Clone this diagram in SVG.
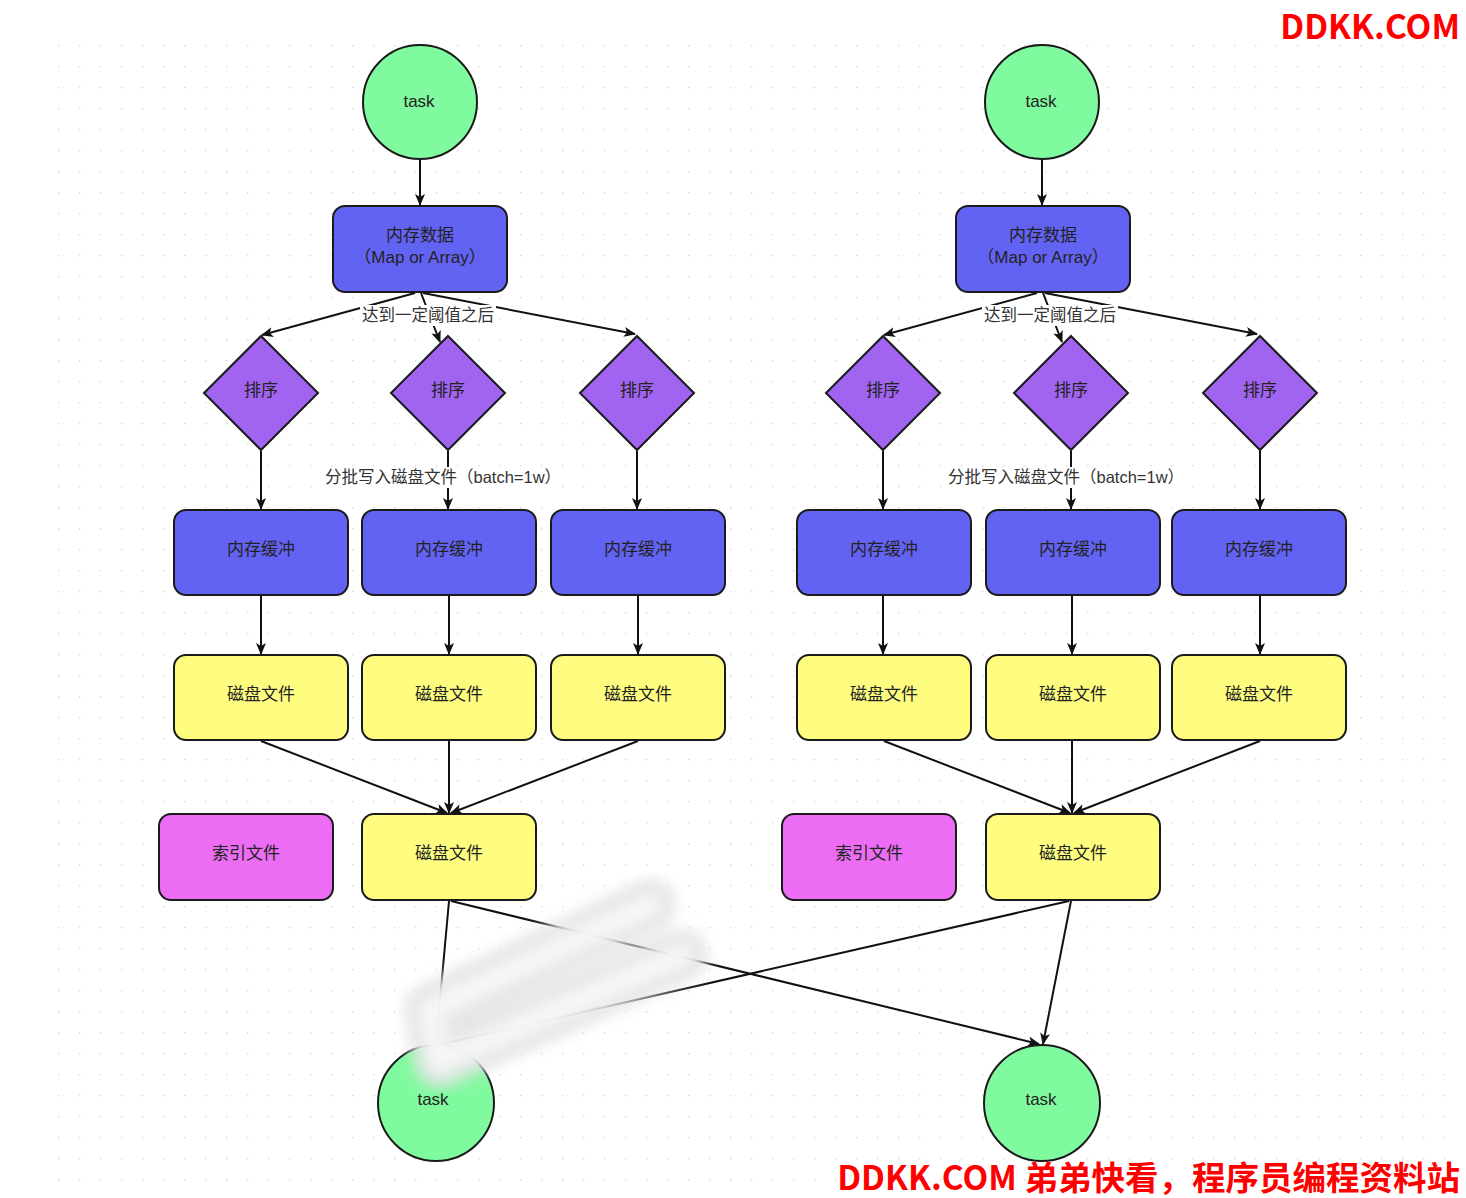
<svg xmlns="http://www.w3.org/2000/svg" width="1466" height="1198" viewBox="0 0 1466 1198">
<defs>
<pattern id="dots" x="58" y="45" width="21" height="21" patternUnits="userSpaceOnUse">
<circle cx="0.5" cy="0.5" r="1" fill="#d9d9d9"/>
</pattern>
<marker id="arr" viewBox="0 0 12 10" refX="11" refY="5" markerWidth="12" markerHeight="10" markerUnits="userSpaceOnUse" orient="auto">
<path d="M0,0 L12,5 L0,10 L3,5 z" fill="#111"/>
</marker>
<filter id="blur" x="-20%" y="-20%" width="140%" height="140%"><feGaussianBlur stdDeviation="7"/></filter>
<style>
.t{font-family:"Liberation Sans","Noto Sans CJK SC",sans-serif;font-size:17px;fill:#222;text-anchor:middle}
.lbl{font-family:"Liberation Sans","Noto Sans CJK SC",sans-serif;font-size:16.5px;fill:#333;text-anchor:middle}
.task{fill:#80FA9F;stroke:#1a1a1a;stroke-width:2}
.blue{fill:#6363F3;stroke:#1a1a1a;stroke-width:2}
.dia{fill:#A064F0;stroke:#1a1a1a;stroke-width:2}
.yel{fill:#FEFD80;stroke:#1a1a1a;stroke-width:2}
.mag{fill:#EC6DF4;stroke:#1a1a1a;stroke-width:2}
.c line{stroke:#111;stroke-width:2;marker-end:url(#arr)}
.wm{font-family:"Noto Sans CJK SC","Liberation Sans",sans-serif;font-weight:bold;font-size:33.5px;fill:#FF0000}
</style>
</defs>
<rect width="1466" height="1198" fill="#fff"/>
<rect x="52" y="40" width="1396" height="1145" fill="url(#dots)"/>

<g id="connectors" class="c">
<line x1="420" y1="160" x2="420" y2="205"/>
<line x1="415" y1="293" x2="262" y2="335"/>
<line x1="421" y1="293" x2="440" y2="342"/>
<line x1="423" y1="293" x2="635" y2="334"/>
<line x1="261" y1="451" x2="261" y2="509"/>
<line x1="448" y1="451" x2="448" y2="509"/>
<line x1="637" y1="451" x2="637" y2="509"/>
<line x1="261" y1="596" x2="261" y2="654"/>
<line x1="449" y1="596" x2="449" y2="654"/>
<line x1="638" y1="596" x2="638" y2="654"/>
<line x1="261" y1="741" x2="447" y2="813"/>
<line x1="449" y1="741" x2="449" y2="813"/>
<line x1="638" y1="741" x2="451" y2="813"/>
<line x1="449" y1="901" x2="436" y2="1044"/>
<line x1="451" y1="901" x2="1039" y2="1044"/>
<line x1="1042" y1="160" x2="1042" y2="205"/>
<line x1="1037" y1="293" x2="884" y2="335"/>
<line x1="1043" y1="293" x2="1062" y2="342"/>
<line x1="1045" y1="293" x2="1257" y2="334"/>
<line x1="883" y1="451" x2="883" y2="509"/>
<line x1="1071" y1="451" x2="1071" y2="509"/>
<line x1="1260" y1="451" x2="1260" y2="509"/>
<line x1="883" y1="596" x2="883" y2="654"/>
<line x1="1072" y1="596" x2="1072" y2="654"/>
<line x1="1260" y1="596" x2="1260" y2="654"/>
<line x1="884" y1="741" x2="1070" y2="813"/>
<line x1="1072" y1="741" x2="1072" y2="813"/>
<line x1="1260" y1="741" x2="1074" y2="813"/>
<line x1="1069" y1="901" x2="438" y2="1045"/>
<line x1="1071" y1="901" x2="1043" y2="1044"/>
</g>

<g id="label-threshold-left"><rect x="360" y="305" width="136" height="21" fill="#fff"/><text class="lbl" x="428" y="321">达到一定阈值之后</text></g>
<g id="label-threshold-right"><rect x="982" y="305" width="136" height="21" fill="#fff"/><text class="lbl" x="1050" y="321">达到一定阈值之后</text></g>
<g id="label-batch-left"><rect x="326" y="467" width="234" height="21" fill="#fff"/><text class="lbl" x="443" y="483">分批写入磁盘文件（batch=1w）</text></g>
<g id="label-batch-right"><rect x="948" y="467" width="234" height="21" fill="#fff"/><text class="lbl" x="1066" y="483">分批写入磁盘文件（batch=1w）</text></g>

<g id="task-top-left"><circle class="task" cx="420" cy="102" r="57"/><text class="t" x="419" y="107">task</text></g>
<g id="mem-data-left"><rect class="blue" x="333" y="206" width="174" height="86" rx="12"/><text class="t" x="420" y="241">内存数据</text><text class="t" x="420" y="263">（Map or Array）</text></g>
<g id="sort-l1"><polygon class="dia" points="261,336 318,393 261,450 204,393"/><text class="t" x="261" y="396">排序</text></g>
<g id="sort-l2"><polygon class="dia" points="448,336 505,393 448,450 391,393"/><text class="t" x="448" y="396">排序</text></g>
<g id="sort-l3"><polygon class="dia" points="637,336 694,393 637,450 580,393"/><text class="t" x="637" y="396">排序</text></g>
<g id="buf-l1"><rect class="blue" x="174" y="510" width="174" height="85" rx="12"/><text class="t" x="261" y="555">内存缓冲</text></g>
<g id="buf-l2"><rect class="blue" x="362" y="510" width="174" height="85" rx="12"/><text class="t" x="449" y="555">内存缓冲</text></g>
<g id="buf-l3"><rect class="blue" x="551" y="510" width="174" height="85" rx="12"/><text class="t" x="638" y="555">内存缓冲</text></g>
<g id="disk-l1"><rect class="yel" x="174" y="655" width="174" height="85" rx="12"/><text class="t" x="261" y="700">磁盘文件</text></g>
<g id="disk-l2"><rect class="yel" x="362" y="655" width="174" height="85" rx="12"/><text class="t" x="449" y="700">磁盘文件</text></g>
<g id="disk-l3"><rect class="yel" x="551" y="655" width="174" height="85" rx="12"/><text class="t" x="638" y="700">磁盘文件</text></g>
<g id="index-left"><rect class="mag" x="159" y="814" width="174" height="86" rx="12"/><text class="t" x="246" y="859">索引文件</text></g>
<g id="merged-left"><rect class="yel" x="362" y="814" width="174" height="86" rx="12"/><text class="t" x="449" y="859">磁盘文件</text></g>
<g id="task-bottom-left"><circle class="task" cx="436" cy="1103" r="58"/><text class="t" x="433" y="1105">task</text></g>

<g id="task-top-right"><circle class="task" cx="1042" cy="102" r="57"/><text class="t" x="1041" y="107">task</text></g>
<g id="mem-data-right"><rect class="blue" x="956" y="206" width="174" height="86" rx="12"/><text class="t" x="1043" y="241">内存数据</text><text class="t" x="1043" y="263">（Map or Array）</text></g>
<g id="sort-r1"><polygon class="dia" points="883,336 940,393 883,450 826,393"/><text class="t" x="883" y="396">排序</text></g>
<g id="sort-r2"><polygon class="dia" points="1071,336 1128,393 1071,450 1014,393"/><text class="t" x="1071" y="396">排序</text></g>
<g id="sort-r3"><polygon class="dia" points="1260,336 1317,393 1260,450 1203,393"/><text class="t" x="1260" y="396">排序</text></g>
<g id="buf-r1"><rect class="blue" x="797" y="510" width="174" height="85" rx="12"/><text class="t" x="884" y="555">内存缓冲</text></g>
<g id="buf-r2"><rect class="blue" x="986" y="510" width="174" height="85" rx="12"/><text class="t" x="1073" y="555">内存缓冲</text></g>
<g id="buf-r3"><rect class="blue" x="1172" y="510" width="174" height="85" rx="12"/><text class="t" x="1259" y="555">内存缓冲</text></g>
<g id="disk-r1"><rect class="yel" x="797" y="655" width="174" height="85" rx="12"/><text class="t" x="884" y="700">磁盘文件</text></g>
<g id="disk-r2"><rect class="yel" x="986" y="655" width="174" height="85" rx="12"/><text class="t" x="1073" y="700">磁盘文件</text></g>
<g id="disk-r3"><rect class="yel" x="1172" y="655" width="174" height="85" rx="12"/><text class="t" x="1259" y="700">磁盘文件</text></g>
<g id="index-right"><rect class="mag" x="782" y="814" width="174" height="86" rx="12"/><text class="t" x="869" y="859">索引文件</text></g>
<g id="merged-right"><rect class="yel" x="986" y="814" width="174" height="86" rx="12"/><text class="t" x="1073" y="859">磁盘文件</text></g>
<g id="task-bottom-right"><circle class="task" cx="1042" cy="1103" r="58"/><text class="t" x="1041" y="1105">task</text></g>

<g id="smear" filter="url(#blur)">
<path d="M650,905 L430,1010 L440,1062 L682,955" fill="none" stroke="#e2e2e2" stroke-width="52" stroke-linecap="round" stroke-linejoin="round" opacity="0.9"/>
<path d="M650,905 L430,1010 L440,1062 L682,955" fill="none" stroke="#f8f8f8" stroke-width="24" stroke-linecap="round" stroke-linejoin="round" opacity="0.9"/>
</g>

<g id="watermarks">
<text class="wm" x="1460" y="39" text-anchor="end">DDKK.COM</text>
<text class="wm" x="1460" y="1190" text-anchor="end">DDKK.COM 弟弟快看，程序员编程资料站</text>
</g>
</svg>
